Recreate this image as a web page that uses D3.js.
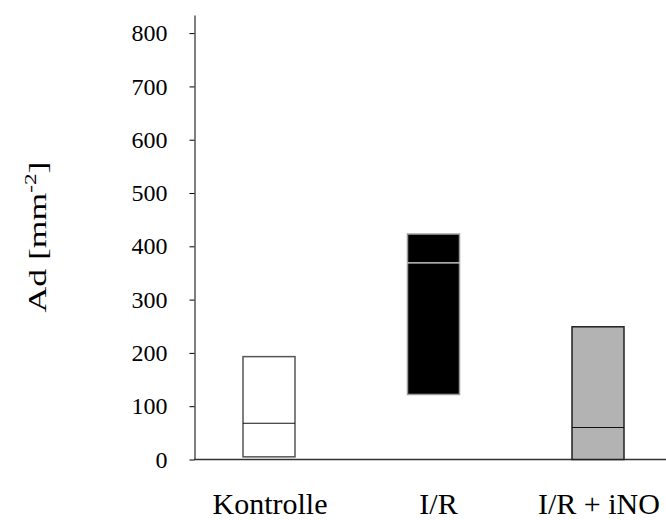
<!DOCTYPE html>
<html>
<head>
<meta charset="utf-8">
<script src="https://cdn.jsdelivr.net/npm/d3@7"></script>
<style>
  body { margin: 0; background: #fff; }
  text { font-family: "Liberation Serif", "Times New Roman", serif; fill: #000; }
</style>
</head>
<body>
<div id="vis"></div>
<script>
// data
const categories = ["Kontrolle", "I/R", "I/R + iNO"];
const lowValues = [5, 122, 0];
const medianValues = [68, 369, 60];
const highValues = [193, 423, 249];
const yTicks = [0, 100, 200, 300, 400, 500, 600, 700, 800];

const fills = ["#ffffff", "#000000", "#b3b3b3"];
const strokes = ["#555555", "#9a9a9a", "#222222"];
const medianColors = ["#111111", "#e6e6e6", "#111111"];

const width = 666, height = 520;

const svg = d3.select("#vis").append("svg")
    .attr("width", width)
    .attr("height", height);

// scales
const x = d3.scalePoint()
    .domain(categories)
    .range([269, 598]);

const y = d3.scaleLinear()
    .domain([0, 834])
    .range([459.5, 15]);

const boxW = 52;

// y axis
const yAxis = svg.append("g")
    .attr("transform", "translate(194.5,0)")
    .call(d3.axisLeft(y).tickValues(yTicks).tickSize(5).tickSizeOuter(0).tickPadding(22));

yAxis.select(".domain").attr("stroke", "#000");
yAxis.selectAll(".tick line").attr("stroke", "#000");
yAxis.selectAll(".tick text")
    .style("font-size", "24px")
    .style("font-family", "'Liberation Serif', serif");

// baseline
svg.append("line")
    .attr("x1", 194).attr("x2", width)
    .attr("y1", y(0)).attr("y2", y(0))
    .attr("stroke", "#333")
    .attr("stroke-width", 1.5);

// boxes
const boxes = svg.selectAll(".box")
    .data(categories)
    .join("g")
    .attr("class", "box");

boxes.append("rect")
    .attr("x", d => x(d) - boxW / 2)
    .attr("y", (d, i) => y(highValues[i]))
    .attr("width", boxW)
    .attr("height", (d, i) => y(lowValues[i]) - y(highValues[i]))
    .attr("fill", (d, i) => fills[i])
    .attr("stroke", (d, i) => strokes[i])
    .attr("stroke-width", 1.5);

boxes.append("line")
    .attr("x1", d => x(d) - boxW / 2)
    .attr("x2", d => x(d) + boxW / 2)
    .attr("y1", (d, i) => y(medianValues[i]))
    .attr("y2", (d, i) => y(medianValues[i]))
    .attr("stroke", (d, i) => medianColors[i])
    .attr("stroke-width", 1.2);

// category labels
svg.selectAll(".cat")
    .data(categories)
    .join("text")
    .attr("class", "cat")
    .attr("x", (d, i) => x(d) + (i === 1 ? 5 : 1))
    .attr("y", 514)
    .attr("text-anchor", "middle")
    .style("font-size", "30px")
    .text(d => d);

// y label (stretched along its length like the original)
const ylab = svg.append("text")
    .attr("transform", "translate(46,237) rotate(-90) scale(1.37,1)")
    .attr("text-anchor", "middle")
    .style("font-size", "26px");
ylab.append("tspan").text("Ad [mm");
ylab.append("tspan").attr("dy", -10).style("font-size", "17px").text("-2");
ylab.append("tspan").attr("dy", 10).text("]");
</script>
</body>
</html>
